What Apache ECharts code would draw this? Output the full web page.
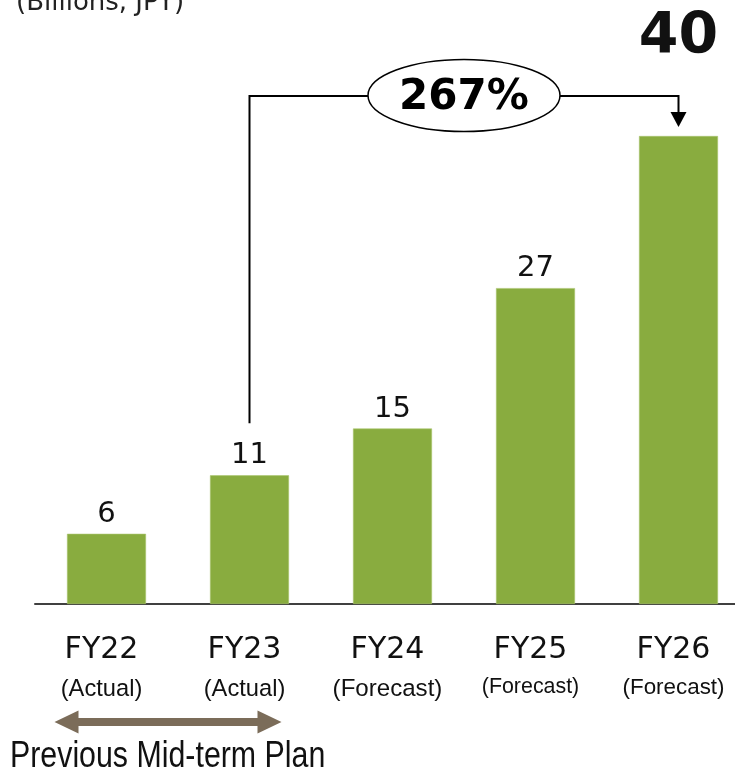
<!DOCTYPE html>
<html>
<head>
<meta charset="utf-8">
<script src="https://cdn.jsdelivr.net/npm/echarts@6/dist/echarts.min.js"></script>
<style>
  html, body { margin: 0; padding: 0; background: #ffffff; overflow: hidden; }
  /* the plot runs a little past the right edge of the page */
  #chart { width: 750px; height: 776px; }
</style>
</head>
<body>
<div id="chart"></div>
<script>
// Revenue by fiscal year (billions of yen)
const categories = ['FY22', 'FY23', 'FY24', 'FY25', 'FY26'];
const phases = ['(Actual)', '(Actual)', '(Forecast)', '(Forecast)', '(Forecast)'];
const revenue = [6, 11, 15, 27, 40];
const growthLabel = '267%';
const unitLabel = '(Billions, JPY)';
const planLabel = 'Previous Mid-term Plan';

const GREEN = '#89ac3f';
const ARIAL = '"Liberation Sans", Arial, sans-serif';
const VERDANA = '"DejaVu Sans", Verdana, sans-serif';

const chart = echarts.init(document.getElementById('chart'), null, { renderer: 'canvas' });

const lastIdx = revenue.length - 1;
const seriesData = revenue.map((v, i) => i === lastIdx ? {
  value: v,
  label: { fontSize: 57, fontWeight: 'bold', distance: 69 }
} : v);

function phaseStyle(i) {
  if (i === 2) return 'fc1';
  if (i === 3) return 'fc2';
  if (i === 4) return 'fc3';
  return 'act';
}

chart.setOption({
  animation: false,
  backgroundColor: '#ffffff',
  grid: { left: 35, right: 0, top: 19, height: 585, containLabel: false },
  xAxis: {
    type: 'category',
    data: categories,
    axisLine: { show: true, lineStyle: { color: '#404040', width: 2 } },
    axisTick: { show: false },
    axisLabel: {
      interval: 0,
      margin: 26,
      padding: [0, 10, 0, 0],
      formatter: (v, i) => `{fy|${v}}\n{${phaseStyle(i)}|${phases[i]}}`,
      rich: {
        fy: { fontFamily: VERDANA, fontSize: 30, color: '#111111', lineHeight: 40 },
        act: { fontFamily: ARIAL, fontSize: 23.7, color: '#111111', lineHeight: 39 },
        fc1: { fontFamily: ARIAL, fontSize: 24.1, color: '#111111', lineHeight: 39 },
        fc2: { fontFamily: ARIAL, fontSize: 21.4, color: '#111111', lineHeight: 35 },
        fc3: { fontFamily: ARIAL, fontSize: 22.4, color: '#111111', lineHeight: 36 }
      }
    }
  },
  yAxis: {
    type: 'value',
    min: 0,
    max: 50,
    show: false,
    splitLine: { show: false }
  },
  series: [{
    type: 'bar',
    data: seriesData,
    barWidth: 79,
    itemStyle: { color: GREEN, borderColor: '#a9c46e', borderWidth: 0.6 },
    label: {
      show: true,
      position: 'top',
      distance: 5,
      fontFamily: VERDANA,
      fontSize: 29,
      color: '#111111'
    }
  }]
});

// Annotations: growth bracket, unit caption and plan-period arrow
function drawAnnotations() {
  const px = (i, v) => chart.convertToPixel({ seriesIndex: 0 }, [i, v]);
  const from = px(1, revenue[1]);
  const to = px(lastIdx, revenue[lastIdx]);
  const bracketY = 96;
  const midX = (from[0] + to[0]) / 2;

  const first = px(0, 0);
  const second = px(1, 0);
  const arrowY = 722;
  const aL = first[0] - 52;
  const aR = second[0] + 32;
  const head = 24, halfH = 11.5, halfShaft = 4;

  chart.setOption({
    graphic: [
      {
        type: 'polyline',
        shape: { points: [[from[0], from[1] - 52], [from[0], bracketY], [to[0], bracketY], [to[0], to[1] - 23]] },
        style: { stroke: '#000000', lineWidth: 2, fill: null },
        z: 10
      },
      {
        type: 'polygon',
        shape: { points: [[to[0] - 8, to[1] - 24], [to[0] + 8, to[1] - 24], [to[0], to[1] - 9]] },
        style: { fill: '#000000' },
        z: 10
      },
      {
        type: 'ellipse',
        shape: { cx: midX, cy: 95.5, rx: 96, ry: 36 },
        style: { fill: '#ffffff', stroke: '#000000', lineWidth: 1.5 },
        z: 11
      },
      {
        type: 'text',
        x: midX,
        y: 98,
        style: {
          text: growthLabel,
          fontFamily: VERDANA,
          fontSize: 42,
          fontWeight: 'bold',
          fill: '#000000',
          align: 'center',
          verticalAlign: 'middle'
        },
        z: 12
      },
      {
        type: 'text',
        x: 16,
        y: 3,
        style: {
          text: unitLabel,
          fontFamily: VERDANA,
          fontSize: 26,
          fill: '#222222',
          align: 'left',
          verticalAlign: 'middle'
        },
        z: 10
      },
      {
        type: 'polygon',
        shape: {
          points: [
            [aL, arrowY],
            [aL + head, arrowY - halfH],
            [aL + head, arrowY - halfShaft],
            [aR - head, arrowY - halfShaft],
            [aR - head, arrowY - halfH],
            [aR, arrowY],
            [aR - head, arrowY + halfH],
            [aR - head, arrowY + halfShaft],
            [aL + head, arrowY + halfShaft],
            [aL + head, arrowY + halfH]
          ]
        },
        style: { fill: '#7b6c59' },
        z: 10
      },
      {
        // condensed caption: regular sans squeezed horizontally
        type: 'text',
        x: 10,
        y: 757,
        scaleX: 0.82,
        style: {
          text: planLabel,
          fontFamily: ARIAL,
          fontSize: 37,
          fill: '#111111',
          align: 'left',
          verticalAlign: 'middle'
        },
        z: 10
      }
    ]
  });
}
drawAnnotations();
</script>
</body>
</html>
